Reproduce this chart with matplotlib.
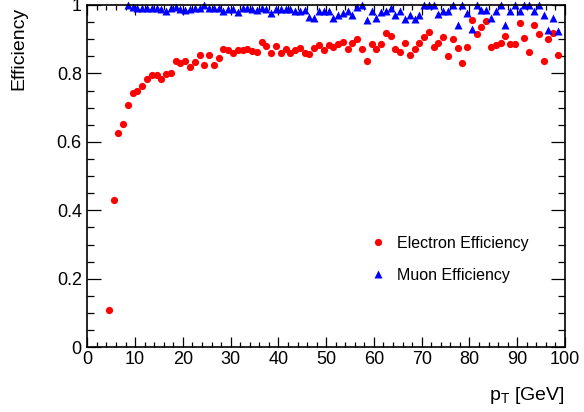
import numpy as np
import matplotlib
matplotlib.use('Agg')
import matplotlib.pyplot as plt
from matplotlib.ticker import MultipleLocator, FormatStrFormatter

plt.rcParams['font.family'] = ['Liberation Sans', 'DejaVu Sans']

# electron efficiency, 1 GeV bins starting at 4-5 GeV
pt_ele = np.arange(4.5, 99.0, 1.0)
eff_ele = [0.109, 0.431, 0.625, 0.653, 0.709, 0.742, 0.750, 0.764, 0.785, 0.794,
           0.794, 0.785, 0.799, 0.802, 0.837, 0.829, 0.837, 0.818, 0.833, 0.853,
           0.824, 0.855, 0.824, 0.845, 0.871, 0.869, 0.859, 0.868, 0.868, 0.870,
           0.866, 0.863, 0.891, 0.880, 0.861, 0.880, 0.861, 0.871, 0.861, 0.868,
           0.874, 0.861, 0.856, 0.873, 0.884, 0.868, 0.883, 0.877, 0.886, 0.891,
           0.871, 0.890, 0.900, 0.871, 0.835, 0.886, 0.871, 0.886, 0.917, 0.910,
           0.870, 0.864, 0.890, 0.854, 0.871, 0.890, 0.907, 0.921, 0.876, 0.890,
           0.907, 0.852, 0.901, 0.873, 0.830, 0.876, 0.955, 0.914, 0.935, 0.952,
           0.876, 0.883, 0.888, 0.909, 0.886, 0.887, 0.947, 0.902, 0.863, 0.941,
           0.914, 0.835, 0.900, 0.917, 0.854]

# muon efficiency, starts at 8-9 GeV
pt_mu = np.arange(8.5, 99.0, 1.0)
eff_mu = [1.000, 0.993, 0.990, 0.990, 0.990, 0.991, 0.991, 0.988, 0.981, 0.990,
          0.995, 0.988, 0.985, 0.988, 0.990, 0.990, 1.000, 0.990, 0.990, 0.990,
          0.982, 0.988, 0.988, 0.978, 0.990, 0.990, 0.988, 0.985, 0.990, 0.988,
          0.976, 0.988, 0.988, 0.988, 0.988, 0.983, 0.983, 0.986, 0.966, 0.963,
          0.983, 0.983, 0.983, 0.961, 0.971, 0.976, 0.981, 0.970, 0.995, 1.000,
          0.957, 0.983, 0.961, 0.978, 0.981, 0.990, 0.971, 0.983, 0.958, 0.970,
          0.960, 0.971, 1.000, 1.000, 1.000, 0.973, 0.981, 0.981, 1.000, 0.941,
          1.000, 0.976, 0.929, 1.000, 0.986, 0.986, 0.961, 0.981, 1.000, 0.942,
          0.981, 1.000, 0.981, 1.000, 1.000, 0.981, 1.000, 0.970, 0.927, 0.961,
          0.924]

fig = plt.figure(figsize=(5.84, 4.12), dpi=100)
ax = fig.add_axes([0.1495, 0.157, 0.818, 0.831])

ax.plot(pt_ele, eff_ele, 'o', color='#ff0000', ms=5.2, mec='none',
        clip_on=False, label='Electron Efficiency')
ax.plot(pt_mu, eff_mu, '^', color='#0000ff', ms=5.4, mec='none',
        clip_on=False, label='Muon Efficiency')

ax.set_xlim(0, 100)
ax.set_ylim(0, 1)
ax.xaxis.set_major_locator(MultipleLocator(10))
ax.xaxis.set_minor_locator(MultipleLocator(2))
ax.yaxis.set_major_locator(MultipleLocator(0.2))
ax.yaxis.set_minor_locator(MultipleLocator(0.05))
ax.yaxis.set_major_formatter(FormatStrFormatter('%g'))

ax.tick_params(which='both', direction='in', top=True, right=True,
               labelsize=13, width=0.9, color='black')
ax.tick_params(axis='x', which='major', length=7, pad=3)
ax.tick_params(axis='x', which='minor', length=3.6)
ax.tick_params(axis='y', which='major', length=10, pad=4)
ax.tick_params(axis='y', which='minor', length=5)
for s in ax.spines.values():
    s.set_linewidth(1.2)

fig.text(18.5 / 584, 1 - 7 / 412, 'Efficiency', rotation=90,
         ha='center', va='top', fontsize=14)
fig.text(565 / 584, 12 / 412, r'p$_\mathregular{T}$ [GeV]',
         ha='right', va='baseline', fontsize=14)

ax.legend(loc='upper left', bbox_to_anchor=(370 / 584, 1 - 236 / 412),
          bbox_transform=fig.transFigure, frameon=False, fontsize=11.5,
          handlelength=1.0, handletextpad=0.7, labelspacing=1.05,
          borderpad=0, borderaxespad=0, numpoints=1)

fig.savefig('out.png', dpi=100)
